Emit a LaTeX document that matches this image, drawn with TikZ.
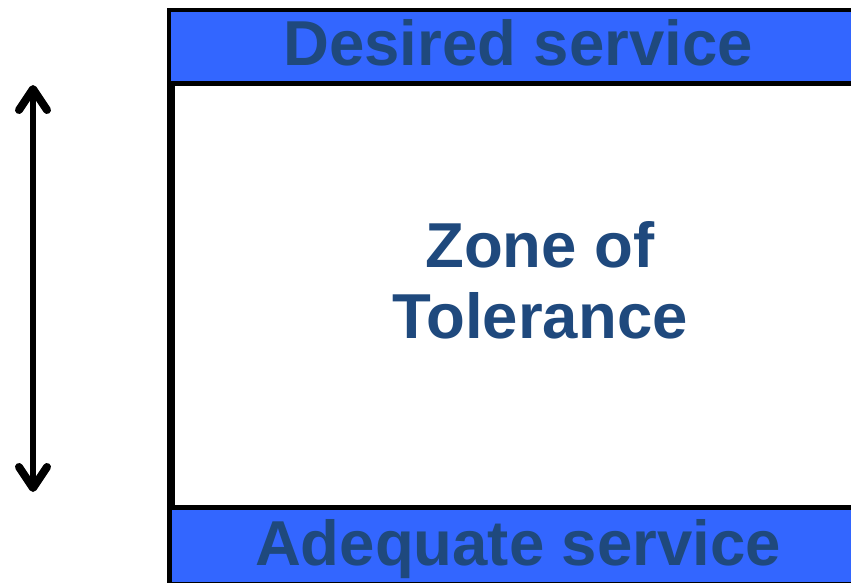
\documentclass[tikz,border=0pt]{standalone}
\usepackage{fontspec}
\setmainfont{Liberation Sans}
\usetikzlibrary{arrows.meta}
\definecolor{barblue}{HTML}{3366FF}
\definecolor{labelblue}{HTML}{1F497D}
\begin{document}
\begin{tikzpicture}[x=1pt,y=-1pt,
  bar/.style={draw=black,line width=4.8pt,fill=barblue},
  zonebox/.style={draw=black,line width=8pt,fill=white},
  label/.style={text=labelblue,font=\bfseries\fontsize{63.5}{71}\selectfont,inner sep=0pt},
  barb/.tip={Straight Barb[length=21pt,width=28pt,line width=8pt 0,round]},
  span/.style={line width=6.5pt,line cap=round,barb-barb}]
  \useasboundingbox (0,0) rectangle (851,582);
  % zone between the two service levels
  \draw[zonebox] (171,80) rectangle (900,510);
  % service level bars
  \draw[bar] (169,10) rectangle (900,83.5);
  \draw[bar] (169.5,507.5) rectangle (900,584);
  % labels
  \node[label,anchor=base] (desired) at (518,65.5) {Desired service};
  \node[label,anchor=base] (adequate) at (518,565.5) {Adequate service};
  \node[label,align=center] (zone) at (540,280) {Zone of\\Tolerance};
  % range arrow
  \coordinate (rtop) at (33,85);
  \coordinate (rbot) at (33,492);
  \draw[span] (rtop) -- (rbot);
\end{tikzpicture}
\end{document}
